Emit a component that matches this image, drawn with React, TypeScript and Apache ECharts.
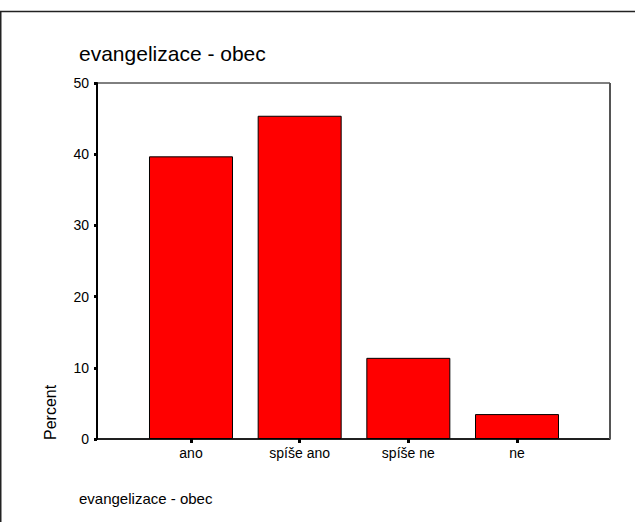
import React, { useEffect, useRef } from "react";
import * as echarts from "echarts";

const categories: string[] = ["ano", "spíše ano", "spíše ne", "ne"];
const percentValues: number[] = [39.7, 45.4, 11.4, 3.5];
const yTicks = { min: 0, max: 50, interval: 10 };
const titleText = "evangelizace - obec";
const yAxisName = "Percent";

const FONT = "'Liberation Sans', Arial, sans-serif";

export default function App() {
  const ref = useRef<HTMLDivElement>(null);
  useEffect(() => {
    if (!ref.current) return;
    const chart = echarts.init(ref.current, undefined, { renderer: "svg" });
    const option: any = {
      animation: false,
      backgroundColor: "#fff",
      textStyle: { fontFamily: FONT },
      graphic: [
        {
          type: "rect",
          shape: { x: 0.75, y: 11.5, width: 700, height: 600 },
          style: { fill: "none", stroke: "#222", lineWidth: 1.5 },
          silent: true,
        },
        {
          type: "text",
          x: 79,
          y: 53,
          style: {
            text: titleText,
            fontSize: 21,
            fontFamily: FONT,
            fill: "#000",
            verticalAlign: "middle",
          },
        },
        {
          type: "text",
          x: 79,
          y: 498,
          style: {
            text: titleText,
            fontSize: 15,
            fontFamily: FONT,
            fill: "#000",
            verticalAlign: "middle",
          },
        },
        {
          type: "text",
          x: 50,
          y: 440,
          rotation: Math.PI / 2,
          style: {
            text: yAxisName,
            fontSize: 16,
            fontFamily: FONT,
            fill: "#000",
            align: "left",
            verticalAlign: "middle",
          },
        },
        {
          type: "line",
          shape: { x1: 610, y1: 83, x2: 610, y2: 439 },
          style: { stroke: "#555", lineWidth: 2 },
          z: 10,
        },
      ],
      grid: [
        {
          left: 97,
          top: 83,
          width: 513,
          height: 356,
          show: true,
          borderColor: "#000",
          borderWidth: 1,
          backgroundColor: "transparent",
        },
        {
          left: 136.65,
          top: 83,
          width: 434.7,
          height: 356,
        },
      ],
      xAxis: [
        {
          gridIndex: 0,
          type: "value",
          min: 0,
          max: 1,
          axisLine: { show: true, lineStyle: { color: "#000", width: 1.5 } },
          axisTick: { show: false },
          axisLabel: { show: false },
          splitLine: { show: false },
        },
        {
          gridIndex: 1,
          type: "category",
          data: categories,
          axisLine: { show: false },
          axisTick: {
            show: true,
            alignWithLabel: true,
            length: 4,
            lineStyle: { color: "#000", width: 3 },
          },
          axisLabel: {
            fontSize: 14,
            color: "#000",
            margin: 7,
            fontFamily: FONT,
          },
        },
      ],
      yAxis: [
        {
          gridIndex: 0,
          type: "value",
          min: yTicks.min,
          max: yTicks.max,
          interval: yTicks.interval,
          axisLine: { show: true, lineStyle: { color: "#000", width: 2 } },
          axisTick: {
            show: true,
            length: 3,
            lineStyle: { color: "#000", width: 3 },
          },
          axisLabel: {
            fontSize: 14,
            color: "#000",
            margin: 8,
            fontFamily: FONT,
          },
          splitLine: { show: false },
        },
        {
          gridIndex: 1,
          type: "value",
          min: yTicks.min,
          max: yTicks.max,
          show: false,
        },
      ],
      series: [
        {
          type: "bar",
          xAxisIndex: 1,
          yAxisIndex: 1,
          data: percentValues,
          barWidth: 84,
          itemStyle: {
            color: "#ff0000",
            borderColor: "#000",
            borderWidth: 1,
          },
        },
      ],
    };
    chart.setOption(option);
    return () => chart.dispose();
  }, []);
  return (
    <div
      ref={ref}
      style={{ position: "fixed", left: 0, top: 0, width: 635, height: 522 }}
    />
  );
}
